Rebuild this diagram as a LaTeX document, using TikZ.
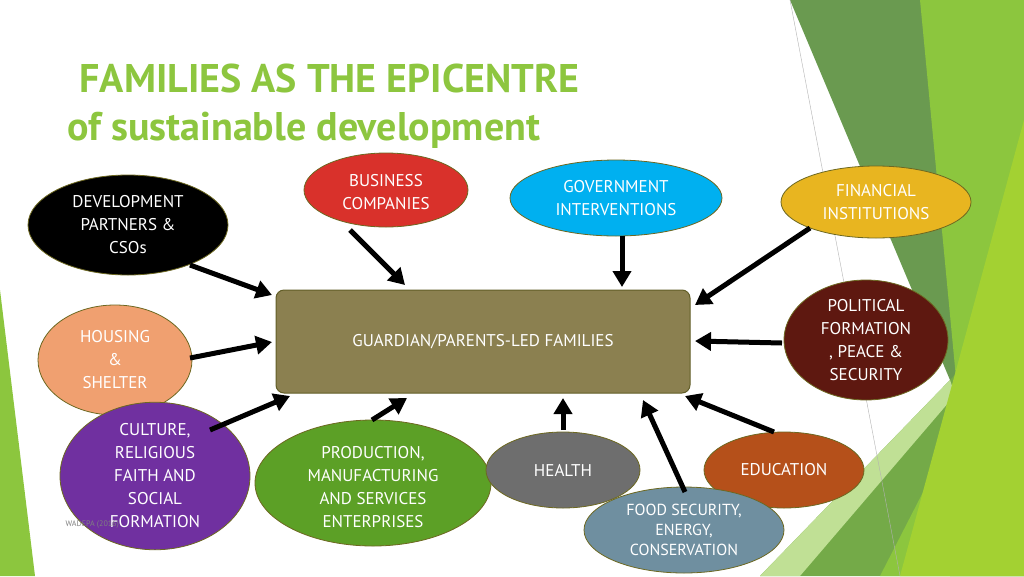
\documentclass[tikz,border=0pt]{standalone}
\usepackage{fontspec}
\setmainfont{PT Sans}
\usetikzlibrary{shapes.geometric,arrows.meta}
\definecolor{lime}{HTML}{8CC63E}
\definecolor{dgreen}{HTML}{6A9A50}
\definecolor{mgreen}{HTML}{74AA48}
\definecolor{titlec}{HTML}{8DC63F}
\tikzset{
 el/.style={ellipse,draw=olive!70!black,line width=0.8pt,text=white,align=center,inner sep=0pt,font=\fontsize{17}{23}\selectfont},
 arr/.style={line width=5pt,-{Triangle[length=16pt,width=18pt]}}
}
\begin{document}
\begin{tikzpicture}[x=1pt,y=-1pt]
\useasboundingbox (0,0) rectangle (1024,576);
\fill[white] (0,0) rectangle (1024,576);
% background shapes
\fill[lime] (0,290) -- (35,576) -- (0,576) -- cycle;
\fill[dgreen] (790,0) -- (1024,0) -- (1024,576) -- (950,576) -- (950,380) -- cycle;
\fill[mgreen] (950,380) -- (1024,300) -- (1024,576) -- (760,576) -- cycle;
\fill[lime!55!white] (950,380) -- (760,576) -- (800,576) -- (955,395) -- cycle;
\fill[lime] (920,0) -- (1024,0) -- (1024,576) -- (880,576) -- (960,420) -- cycle;
\fill[lime!80!yellow] (1024,120) -- (1024,576) -- (900,576) -- cycle;
\draw[gray!60,line width=0.4pt] (790,0) -- (900,576);
% title
\node[anchor=base west,text=titlec,font=\bfseries\fontsize{40}{44}\selectfont] (t1) at (76,92) {FAMILIES AS THE EPICENTRE};
\node[anchor=base west,text=titlec,font=\bfseries\fontsize{40}{44}\selectfont] (t2) at (64,140) {of sustainable development};
% central
\node[draw=olive!60!black,line width=1pt,fill={rgb,255:red,139;green,128;blue,80},rounded corners=8pt,minimum width=414pt,minimum height=103pt,font=\fontsize{17}{20}\selectfont,text=white] (c) at (483,341.5) {GUARDIAN/PARENTS-LED FAMILIES};
% nodes
\node[el,fill=black,minimum width=200pt,minimum height=100pt] (dev) at (128,225) {DEVELOPMENT\\PARTNERS \&\\CSOs};
\node[el,fill={rgb,255:red,217;green,49;blue,43},minimum width=164pt,minimum height=74pt] (bus) at (386,190) {};
\node[text=white,align=center,font=\fontsize{17}{23}\selectfont] (bustxt) at (386,192) {BUSINESS\\COMPANIES};
\node[el,fill={rgb,255:red,0;green,176;blue,240},minimum width=212pt,minimum height=76pt] (gov) at (616,198) {GOVERNMENT\\INTERVENTIONS};
\node[el,fill={rgb,255:red,232;green,181;blue,32},minimum width=190pt,minimum height=72pt] (fin) at (876,202) {FINANCIAL\\INSTITUTIONS};
\node[el,fill={rgb,255:red,94;green,24;blue,16},minimum width=164pt,minimum height=120pt] (pol) at (866,340) {POLITICAL\\FORMATION\\, PEACE \&\\SECURITY};
\node[el,fill={rgb,255:red,240;green,160;blue,112},minimum width=154pt,minimum height=110pt] (hou) at (115,360) {HOUSING\\\&\\SHELTER};
\node[el,fill={rgb,255:red,112;green,48;blue,160},minimum width=190pt,minimum height=116pt] (cul) at (155,476) {CULTURE,\\RELIGIOUS\\FAITH AND\\SOCIAL\\FORMATION};
\node[el,fill={rgb,255:red,92;green,160;blue,38},minimum width=236pt,minimum height=126pt] (pro) at (373,483) {};
\node[text=white,align=center,font=\fontsize{17}{23}\selectfont] (protxt) at (373,487) {PRODUCTION,\\MANUFACTURING\\AND SERVICES\\ENTERPRISES};
\node[el,fill={rgb,255:red,110;green,110;blue,110},minimum width=154pt,minimum height=76pt] (hea) at (563,470) {HEALTH};
\node[el,fill={rgb,255:red,181;green,80;blue,26},minimum width=160pt,minimum height=76pt] (edu) at (784,470) {EDUCATION};
\node[el,fill={rgb,255:red,111;green,143;blue,160},minimum width=200pt,minimum height=86pt,font=\fontsize{16}{20}\selectfont] (foo) at (684,530) {FOOD SECURITY,\\ENERGY,\\CONSERVATION};
\node[anchor=base west,text=gray,font=\fontsize{8}{10}\selectfont] (ft) at (62,526) {WADEPA (2016)};
% arrows
\draw[arr] (190,265) -- (272,295);
\draw[arr] (350,230) -- (405,285);
\draw[arr] (622,236) -- (622,287);
\draw[arr] (810,228) -- (695,305);
\draw[arr] (782,343) -- (695,341);
\draw[arr] (190,358) -- (272,342);
\draw[arr] (210,430) -- (290,396);
\draw[arr] (372,420) -- (407,398);
\draw[arr] (563,430) -- (563,398);
\draw[arr] (685,492) -- (643,400);
\draw[arr] (774,432) -- (685,396);
\end{tikzpicture}
\end{document}
